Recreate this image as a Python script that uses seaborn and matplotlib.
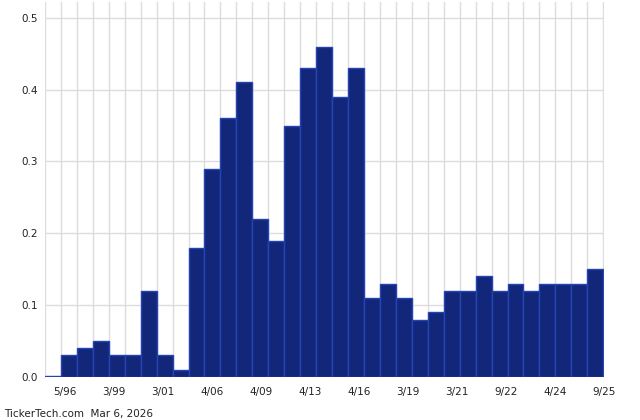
import matplotlib
matplotlib.use("Agg")
import matplotlib.pyplot as plt
import seaborn as sns
import numpy as np
import pandas as pd

periods = [f"p{i:02d}" for i in range(35)]
values = [0.002, 0.03, 0.04, 0.05, 0.03, 0.03, 0.12, 0.03, 0.01, 0.18,
          0.29, 0.36, 0.41, 0.22, 0.19, 0.35, 0.43, 0.46, 0.39, 0.43,
          0.11, 0.13, 0.11, 0.08, 0.09, 0.12, 0.12, 0.14, 0.12, 0.13,
          0.12, 0.13, 0.13, 0.13, 0.15]
tick_labels = ["5/96", "3/99", "3/01", "4/06", "4/09", "4/13",
               "4/16", "3/19", "3/21", "9/22", "4/24", "9/25"]
y_ticks = [0.0, 0.1, 0.2, 0.3, 0.4, 0.5]

df = pd.DataFrame({"period": periods, "value": values})

sns.set_style("white")
plt.rcParams["font.family"] = ["DejaVu Sans"]

fig = plt.figure(figsize=(6.4, 4.2), dpi=100)
ax = fig.add_axes([45/640, (420-377)/420, (604-45)/640, (377-2)/420])

sns.barplot(data=df, x="period", y="value", ax=ax, width=1.0,
            color="#13277a", edgecolor="#2443b5", linewidth=1.0,
            saturation=1, zorder=3)

n = len(values)
ax.set_xlim(-0.5, n - 0.5)
ax.set_ylim(0, 0.522)

# vertical gridlines at each bar edge
for xe in np.arange(-0.5, n + 0.5, 1.0):
    ax.axvline(xe, color="#dcdcdc", lw=1.0, zorder=1)
for yv in y_ticks:
    ax.axhline(yv, color="#dcdcdc", lw=1.0, zorder=1)

ax.set_yticks(y_ticks)
ax.set_yticklabels([f"{v:.1f}" for v in y_ticks], fontsize=7.5, color="#222222")
ax.set_yticks([0.05, 0.15, 0.25, 0.35, 0.45], minor=True)
ax.tick_params(axis="y", which="major", length=0, pad=5)
ax.tick_params(axis="y", which="minor", length=2, direction="in", color="#cccccc")

ax.set_xticks(np.linspace(0.75, 34.55, len(tick_labels)))
ax.set_xticklabels(tick_labels, fontsize=7.5, color="#222222")
ax.tick_params(axis="x", length=0, pad=7)

ax.set_xlabel("")
ax.set_ylabel("")
for s in ax.spines.values():
    s.set_visible(False)

fig.text(4/640, 1 - 414/420, "TickerTech.com  Mar 6, 2026", fontsize=7.5,
         color="#222222", va="center", ha="left")

fig.savefig("out.png", dpi=100)
